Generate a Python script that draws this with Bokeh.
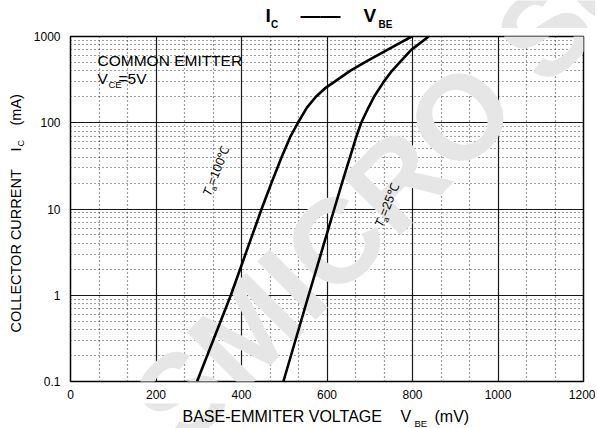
import math
from bokeh.plotting import figure
from bokeh.models import Label, FixedTicker, CustomJSTickFormatter
from bokeh.layouts import column, row
from bokeh.embed import file_html
from bokeh.resources import INLINE

# ---- data ----
x_ticks = [0, 200, 400, 600, 800, 1000, 1200]
y_ticks = [0.1, 1, 10, 100, 1000]
y_tick_labels = ["0.1", "1", "10", "100", "1000"]

# Ta = 100 C curve : V_BE (mV) vs I_C (mA)
vbe_100 = [296, 375, 447, 470, 494, 515, 532, 553, 574, 595, 618, 654, 688, 741, 798]
ic_100 = [0.1, 1, 10, 20, 40, 70, 100, 150, 200, 250, 300, 400, 500, 700, 1000]

# Ta = 25 C curve
vbe_25 = [498, 557, 617, 635, 646, 660, 669, 680, 697, 710, 733, 752, 770, 797, 838]
ic_25 = [0.1, 1, 10, 20, 30, 50, 70, 100, 150, 200, 300, 400, 500, 700, 1000]

FONT = "Liberation Sans"
WM_TEXT = "SMICRO Se"
BASE_FIX = 0.35  # em shift so that the given y is the text's alphabetic baseline


def aux_fig(w, h):
    f = figure(width=w, height=h, x_range=(0, w), y_range=(0, h),
               min_border=0, title=None, x_axis_location=None, y_axis_location=None,
               output_backend="svg", toolbar_location=None)
    f.outline_line_color = None
    f.background_fill_color = "white"
    f.border_fill_color = "white"
    f.grid.visible = False
    return f


def lab(f, text, sx, sy, size, style="normal", angle=0.0, color="black"):
    d = BASE_FIX * size
    f.add_layout(Label(x=sx - d * math.sin(angle), y=sy + d * math.cos(angle),
                       x_units="screen", y_units="screen", text=text,
                       angle=angle, text_font=FONT, text_font_size=f"{size}px",
                       text_font_style=style, text_color=color,
                       text_baseline="alphabetic", text_align="left"))


def watermark(f, fx0, fy0):
    # same faint diagonal watermark in every panel, placed from page coordinates
    wx, wy = 200, 470
    f.add_layout(Label(x=wx - fx0, y=fy0 - wy, x_units="screen", y_units="screen",
                       text=WM_TEXT, angle=math.radians(45), text_font=FONT,
                       text_font_size="120px", text_font_style="bold",
                       text_color="#e6e6e6", level="underlay"))


# ---------- main chart ----------
p = figure(frame_width=513, frame_height=345,
           min_border_left=40, min_border_right=12, min_border_top=8, min_border_bottom=22,
           x_range=(0, 1200), y_range=(0.1, 1000), y_axis_type="log", title=None,
           output_backend="svg", toolbar_location=None)
p.background_fill_color = "white"
p.border_fill_color = "white"
p.outline_line_color = "black"
p.outline_line_width = 1.5

x_minor = [a + k * 200 / 3 for a in x_ticks[:-1] for k in (1, 2)]
y_minor = [d * k for d in y_ticks[:-1] for k in range(2, 10)]

p.xaxis.ticker = FixedTicker(ticks=x_ticks, minor_ticks=x_minor)
p.yaxis.ticker = FixedTicker(ticks=y_ticks, minor_ticks=y_minor)
p.xgrid.ticker = FixedTicker(ticks=x_ticks, minor_ticks=x_minor)
p.ygrid.ticker = FixedTicker(ticks=y_ticks, minor_ticks=y_minor)

p.yaxis.formatter = CustomJSTickFormatter(
    args=dict(vals=y_ticks, labs=y_tick_labels),
    code="""
    for (let i = 0; i < vals.length; i++) {
        if (Math.abs(Math.log10(tick) - Math.log10(vals[i])) < 1e-6) return labs[i];
    }
    return '';
    """)

for ax in (p.xaxis, p.yaxis):
    ax.axis_line_color = None
    ax.major_tick_line_color = None
    ax.minor_tick_line_color = None
    ax.major_tick_out = 0
    ax.major_tick_in = 0
    ax.major_label_text_font = FONT
    ax.major_label_text_font_size = "12px"
    ax.major_label_text_color = "black"
p.xaxis.major_label_standoff = 4
p.yaxis.major_label_standoff = 6

for g in (p.xgrid, p.ygrid):
    g.grid_line_color = "black"
    g.grid_line_width = 1.2
    g.grid_line_alpha = 0.9
    g.minor_grid_line_color = "black"
    g.minor_grid_line_dash = "1 3"
    g.minor_grid_line_width = 1.2
    g.minor_grid_line_alpha = 0.75

watermark(p, 70, 381)

p.line(vbe_100, ic_100, line_color="black", line_width=2.6)
p.line(vbe_25, ic_25, line_color="black", line_width=2.6)

# notes inside the chart (screen units relative to the frame: x = X-70, y = 381-Y)
lab(p, "COMMON EMITTER", 27, 316, 15.5)
lab(p, "V", 27, 298, 15.5)
lab(p, "CE", 38, 294, 9.5)
lab(p, "=5V", 48, 298, 15.5)


def temp_label(sx, sy, rest):
    th = math.radians(68)
    ux, uy = math.cos(th), math.sin(th)
    px, py = math.sin(th), -math.cos(th)
    lab(p, "T", sx, sy, 12.5, "italic", th)
    lab(p, "a", sx + 7.6 * ux + 3 * px, sy + 7.6 * uy + 3 * py, 8, "normal", th)
    lab(p, rest, sx + 12.3 * ux, sy + 12.3 * uy, 12.5, "normal", th)


temp_label(140, 184, "=100℃")
temp_label(312, 153, "=25℃")

# ---------- title strip (page y 0..28) ----------
t = aux_fig(595, 28)
watermark(t, 0, 28)
lab(t, "I", 265, 6, 19, "bold")
lab(t, "C", 270.5, 1, 10, "bold")
lab(t, "——", 300, 6.5, 20, "bold")
lab(t, "V", 363, 6, 19, "bold")
lab(t, "BE", 378, 1, 10, "bold")

# ---------- y-axis label strip (its frame is aligned with the chart frame: y = 381-Y) ----------
l = aux_fig(30, 375)
watermark(l, 0, 381)
rot = math.pi / 2
lab(l, "COLLECTOR CURRENT", 20.5, 49, 14.5, "normal", rot)
lab(l, "I", 20.5, 230, 14.5, "normal", rot)
lab(l, "C", 24, 235, 9, "normal", rot)
lab(l, "(mA)", 20.5, 256, 14.5, "normal", rot)

# ---------- x-axis label strip (page y 403..428) ----------
b = aux_fig(595, 25)
watermark(b, 0, 428)
lab(b, "BASE-EMMITER VOLTAGE", 182, 6.5, 16)
lab(b, "V", 400, 6.5, 16)
lab(b, "BE", 414, 1.5, 9.5)
lab(b, "(mV)", 434, 6.5, 16)

layout = column(t, row(l, p), b)
open("out.html", "w").write(file_html(layout, INLINE))
